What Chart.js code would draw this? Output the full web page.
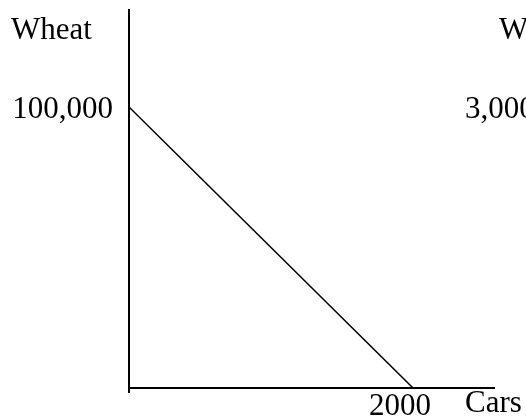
<!DOCTYPE html>
<html>
<head>
<meta charset="utf-8">
<script src="https://cdn.jsdelivr.net/npm/chart.js@4"></script>
<style>
    html, body { margin: 0; padding: 0; background: #fff; }
    #wrap { width: 526px; height: 420px; }
</style>
</head>
<body>
<div id="wrap"><canvas id="ppf"></canvas></div>
<script>
// Data
const cars = [0, 2000];
const wheat = [100000, 0];
const carTicks = [2000];
const wheatTicks = [100000];

const FONT = '"Liberation Serif", "Times New Roman", serif';
const SIZE = 31;

// axis names + the clipped edge of the next graph
const labelsPlugin = {
    id: 'axisNames',
    afterDraw(chart) {
        const ctx = chart.ctx;
        const area = chart.chartArea;
        ctx.save();
        ctx.fillStyle = '#000';
        ctx.font = SIZE + 'px ' + FONT;
        ctx.textBaseline = 'alphabetic';
        ctx.textAlign = 'left';
        ctx.fillText('Wheat', 11, 39);
        ctx.fillText('Cars', area.right - 29, area.bottom + 24);
        ctx.fillText('W', 499, 39);
        const y = chart.scales.y.getPixelForValue(100000);
        ctx.fillText('3,000', 465, y + 11);
        ctx.restore();
    }
};

new Chart(document.getElementById('ppf'), {
    type: 'scatter',
    data: {
        datasets: [{
            data: cars.map((c, i) => ({ x: c, y: wheat[i] })),
            showLine: true,
            borderColor: '#000',
            borderWidth: 1.5,
            pointRadius: 0
        }]
    },
    options: {
        responsive: true,
        maintainAspectRatio: false,
        animation: false,
        layout: { padding: { top: 10, right: 32, left: 0, bottom: 0 } },
        plugins: {
            legend: { display: false },
            tooltip: { enabled: false }
        },
        scales: {
            x: {
                type: 'linear',
                min: 0,
                max: 2570,
                afterBuildTicks: s => { s.ticks = [0, ...carTicks].map(v => ({ value: v })); },
                afterFit: s => { s.height = 32; s.paddingLeft = 0; s.paddingRight = 0; },
                ticks: {
                    color: '#000',
                    font: { family: FONT, size: SIZE },
                    padding: -5,
                    labelOffset: -13,
                    maxRotation: 0,
                    callback: v => (carTicks.includes(v) ? String(v) : '')
                },
                grid: {
                    drawOnChartArea: false,
                    drawTicks: true,
                    tickLength: 5,
                    lineWidth: 2,
                    color: c => (c.tick && c.tick.value === 0 ? '#000' : 'rgba(0,0,0,0)')
                },
                border: { display: true, color: '#000', width: 2 }
            },
            y: {
                type: 'linear',
                min: 0,
                max: 134500,
                afterBuildTicks: s => { s.ticks = wheatTicks.map(v => ({ value: v })); },
                afterFit: s => { s.width = 129; s.paddingTop = 0; s.paddingBottom = 0; },
                ticks: {
                    color: '#000',
                    font: { family: FONT, size: SIZE },
                    padding: 16,
                    labelOffset: 3,
                    callback: v => v.toLocaleString('en-US')
                },
                grid: { display: false, drawTicks: false },
                border: { display: true, color: '#000', width: 2 }
            }
        }
    },
    plugins: [labelsPlugin]
});
</script>
</body>
</html>
